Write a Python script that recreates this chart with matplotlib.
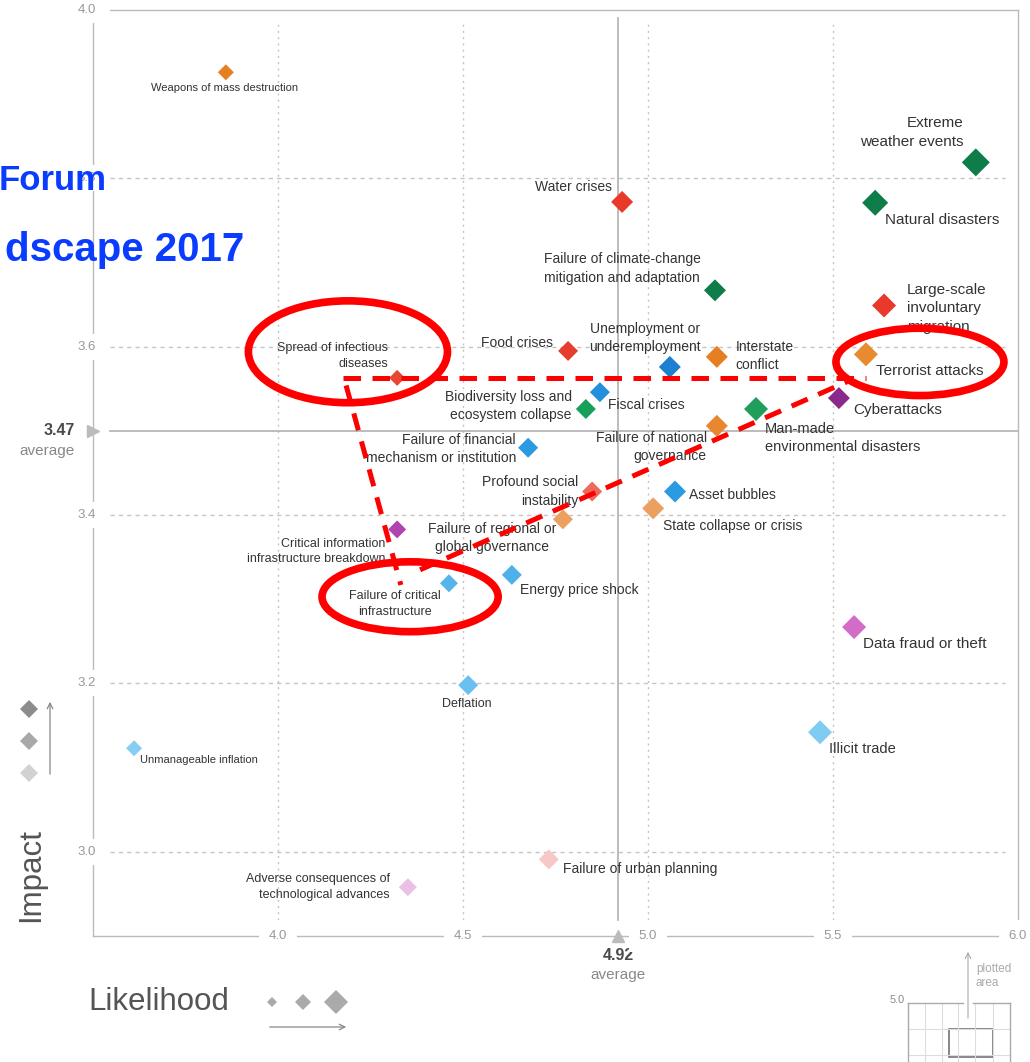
import numpy as np
import matplotlib.pyplot as plt
from matplotlib.patches import Ellipse, Rectangle

plt.rcParams['font.family'] = ['Liberation Sans', 'DejaVu Sans']

# Global risks: likelihood (x) vs impact (y)
risks = [
    'Weapons of mass destruction', 'Extreme\nweather events', 'Natural disasters',
    'Water crises', 'Failure of climate-change\nmitigation and adaptation',
    'Large-scale\ninvoluntary\nmigration', 'Food crises', 'Unemployment or\nunderemployment',
    'Interstate\nconflict', 'Terrorist attacks', 'Spread of infectious\ndiseases',
    'Fiscal crises', 'Biodiversity loss and\necosystem collapse', 'Cyberattacks',
    'Man-made\nenvironmental disasters', 'Failure of national\ngovernance',
    'Failure of financial\nmechanism or institution', 'Asset bubbles',
    'Profound social\ninstability', 'State collapse or crisis',
    'Failure of regional or\nglobal governance', 'Critical information\ninfrastructure breakdown',
    'Failure of critical\ninfrastructure', 'Energy price shock', 'Data fraud or theft',
    'Deflation', 'Illicit trade', 'Unmanageable inflation', 'Failure of urban planning',
    'Adverse consequences of\ntechnological advances',
]
likelihood = [3.859, 5.886, 5.614, 4.930, 5.181, 5.638, 4.784, 5.059, 5.186, 5.589,
              4.322, 4.870, 4.832, 5.516, 5.292, 5.186, 4.676, 5.073, 4.849, 5.014,
              4.770, 4.322, 4.462, 4.632, 5.557, 4.514, 5.465, 3.611, 4.732, 4.351]
impact = [3.926, 3.819, 3.771, 3.772, 3.667, 3.649, 3.595, 3.576, 3.588, 3.591,
          3.563, 3.546, 3.526, 3.539, 3.526, 3.506, 3.480, 3.428, 3.428, 3.408,
          3.395, 3.383, 3.319, 3.329, 3.267, 3.198, 3.142, 3.123, 2.991, 2.958]
colors = ['#e67e22', '#0e7d4a', '#0e7d4a', '#e8392b', '#0e7d4a', '#e8392b', '#e63d2e',
          '#1d7fd0', '#e67e22', '#e88a30', '#e84535', '#2490db', '#16a05a', '#8a2a8c',
          '#1f9e5c', '#e8872e', '#2a9ae3', '#2a9ae3', '#ec6a5c', '#eba060', '#eca060',
          '#b044b0', '#55b4ec', '#4fb0ea', '#d26cc8', '#6cc0ef', '#80cbf2', '#85cdf2',
          '#f7c8c8', '#ecc0e6']
# diamond width in pixels
marker_px = [16, 28, 26, 22, 22, 24, 20, 22, 22, 24, 16, 20, 20, 22, 24, 22, 20, 22,
             20, 22, 20, 18, 18, 20, 24, 20, 24, 16, 20, 18]
# label offset (px), alignment, font size
label_pos = [(-1, -16, 'center', 8), (-12, 30, 'right', 11), (10, -17, 'left', 11),
             (-10, 15, 'right', 10), (-93, 22, 'center', 10), (23, -3, 'left', 11),
             (-15, 8, 'right', 10), (-25, 29, 'center', 10), (19, 1, 'left', 10),
             (10, -17, 'left', 11), (-9, 22, 'right', 9), (8, -13, 'left', 10),
             (-14, 3, 'right', 10), (14, -12, 'left', 11), (9, -29, 'left', 10.5),
             (-10, -21, 'right', 10), (-12, -1, 'right', 10), (14, -3, 'left', 10),
             (-14, 0, 'right', 10), (10, -18, 'left', 10), (-71, -19, 'center', 10),
             (-12, -22, 'right', 9), (-54, -21, 'center', 9), (8, -15, 'left', 10),
             (9, -17, 'left', 11), (-1, -19, 'center', 9), (9, -17, 'left', 10.5),
             (6, -12, 'left', 8), (14, -10, 'left', 10), (-18, 0, 'right', 9)]

x_ticks = [4.0, 4.5, 5.0, 5.5, 6.0]
y_ticks = [3.0, 3.2, 3.4, 3.6, 3.8, 4.0]
avg_likelihood = 4.92
avg_impact = 3.47
avg_impact_drawn = 3.50  # where the source graphic draws the impact average line

# red hand-drawn highlights (data coordinates)
circles = [(4.189, 3.594, 0.538, 0.121), (4.357, 3.303, 0.476, 0.083), (5.735, 3.582, 0.454, 0.080)]
dash_paths = [([4.176, 5.589], [3.563, 3.563]),
              ([4.184, 4.332], [3.554, 3.317]),
              ([4.384, 5.546], [3.335, 3.560])]

W, H = 1030, 1062
fig = plt.figure(figsize=(W / 100, H / 100), dpi=100)
ax = fig.add_axes([93 / W, 1 - 936 / H, (1018 - 93) / W, (936 - 10) / H])
ax.set_xlim(3.5, 6.0)
ax.set_ylim(2.9, 4.0)
ax.set_xticks([])
ax.set_yticks([])
for s in ax.spines.values():
    s.set_color('#bbbbbb')
    s.set_linewidth(1)
ax.spines['left'].set_bounds(2.9, 3.985)
ax.spines['top'].set_bounds(3.546, 6.0)
ax.spines['right'].set_bounds(2.919, 4.0)

# grid
for xv in x_ticks[:-1]:
    ax.plot([xv, xv], [2.919, 3.985], color='#c4c4c4', lw=1, ls=(0, (1.5, 3)), zorder=1)
for yv in y_ticks[:-1]:
    ax.plot([3.546, 5.965], [yv, yv], color='#c4c4c4', lw=1, ls=(0, (3, 3)), zorder=1)

# averages
ax.plot([avg_likelihood, avg_likelihood], [2.919, 3.99], color='#b0b0b0', lw=1.2, zorder=1)
ax.plot([3.546, 6.0], [avg_impact_drawn, avg_impact_drawn], color='#b0b0b0', lw=1.2, zorder=1)

# tick labels sitting on the frame
for xv in x_ticks:
    ax.text(xv, 2.9, '%.1f' % xv, ha='center', va='center', fontsize=9.5, color='#999999',
            bbox=dict(facecolor='white', edgecolor='none', pad=7), zorder=5, clip_on=False)
for yv in y_ticks:
    ax.annotate('%.1f' % yv, (3.5, yv), xytext=(3, 0), textcoords='offset pixels',
                ha='right', va='center', fontsize=9.5, color='#999999',
                bbox=dict(facecolor='white', edgecolor='none', pad=5), zorder=5,
                annotation_clip=False)

ax.plot([3.5], [avg_impact_drawn], marker='>', ms=8, color='#bbbbbb', clip_on=False, zorder=6)
ax.plot([avg_likelihood], [2.9], marker='^', ms=8, color='#bbbbbb', clip_on=False, zorder=6)
ax.annotate('%.2f' % avg_impact, (3.5, avg_impact_drawn), xytext=(-18, 0), textcoords='offset pixels',
            ha='right', va='center', fontsize=11.5, fontweight='bold', color='#4a4a4a',
            annotation_clip=False)
ax.annotate('average', (3.5, avg_impact_drawn), xytext=(-18, -20), textcoords='offset pixels',
            ha='right', va='center', fontsize=11, color='#888888', annotation_clip=False)
ax.annotate('%.2f' % avg_likelihood, (avg_likelihood, 2.9), xytext=(0, -19), textcoords='offset pixels',
            ha='center', va='center', fontsize=11.5, fontweight='bold', color='#4a4a4a',
            annotation_clip=False)
ax.annotate('average', (avg_likelihood, 2.9), xytext=(0, -39), textcoords='offset pixels',
            ha='center', va='center', fontsize=11, color='#888888', annotation_clip=False)

# risks
sizes = (np.array(marker_px) / 1.964) ** 2
ax.scatter(likelihood, impact, s=sizes, marker='D', c=colors, linewidths=0, zorder=3)
for i, name in enumerate(risks):
    dx, dy, ha, fs = label_pos[i]
    ax.annotate(name, (likelihood[i], impact[i]), xytext=(dx, dy), textcoords='offset pixels',
                ha=ha, va='center', fontsize=fs, color='#333333', linespacing=1.4,
                multialignment=ha, zorder=4)

# red highlights
for cx, cy, w, h in circles:
    ax.add_patch(Ellipse((cx, cy), w, h, fill=False, edgecolor='#ff0000', lw=5.5, zorder=8))
for xs, ys in dash_paths:
    ax.plot(xs, ys, color='#ff0000', lw=3.6, dashes=(3.5, 2.3), zorder=8)

# decorations in figure pixels
deco = fig.add_axes([0, 0, 1, 1])
deco.set_xlim(0, W)
deco.set_ylim(H, 0)
deco.axis('off')
deco.patch.set_alpha(0)

deco.text(107, 181, 'Forum', ha='right', va='center', fontsize=25, fontweight='bold', color='#0a3cff')
deco.text(244, 250, 'dscape 2017', ha='right', va='center', fontsize=29, fontweight='bold', color='#0a3cff')

# impact legend
for yy, cc in zip([709, 741, 773], ['#8c8c8c', '#a8a8a8', '#d2d2d2']):
    deco.plot(29, yy, marker='D', ms=18 / 1.964, color=cc, mew=0)
deco.annotate('', xy=(50, 699), xytext=(50, 777),
              arrowprops=dict(arrowstyle='->', color='#888888', lw=0.9))
deco.text(31, 875, 'Impact', rotation=90, ha='center', va='center', fontsize=22.5, color='#555555')

# likelihood legend
deco.text(159, 1002, 'Likelihood', ha='center', va='center', fontsize=22.5, color='#555555')
for xx, ww in zip([272, 303, 336], [10, 16, 24]):
    deco.plot(xx, 1002, marker='D', ms=ww / 1.964, color='#aaaaaa', mew=0)
deco.annotate('', xy=(349, 1027), xytext=(267, 1027),
              arrowprops=dict(arrowstyle='->', color='#888888', lw=0.9))

# plotted area inset
for gx in [925, 942, 958, 975, 993]:
    deco.plot([gx, gx], [1003, 1062], color='#dddddd', lw=0.8)
for gy in [1029, 1055]:
    deco.plot([908, 1010], [gy, gy], color='#dddddd', lw=0.8)
deco.plot([908, 908], [1003, 1062], color='#aaaaaa', lw=1)
deco.plot([1010, 1010], [1003, 1062], color='#aaaaaa', lw=1)
deco.plot([908, 963], [1003, 1003], color='#aaaaaa', lw=1)
deco.plot([973, 1010], [1003, 1003], color='#aaaaaa', lw=1)
deco.add_patch(Rectangle((949, 1029), 44, 28, fill=False, edgecolor='#666666', lw=1.1))
deco.annotate('', xy=(968, 949), xytext=(968, 1021),
              arrowprops=dict(arrowstyle='->', color='#aaaaaa', lw=0.8))
deco.text(976, 976, 'plotted\narea', ha='left', va='center', fontsize=8.5, color='#aaaaaa',
          linespacing=1.25)
deco.text(905, 1000, '5.0', ha='right', va='center', fontsize=7.8, color='#888888')

fig.savefig('out.png', dpi=100)
